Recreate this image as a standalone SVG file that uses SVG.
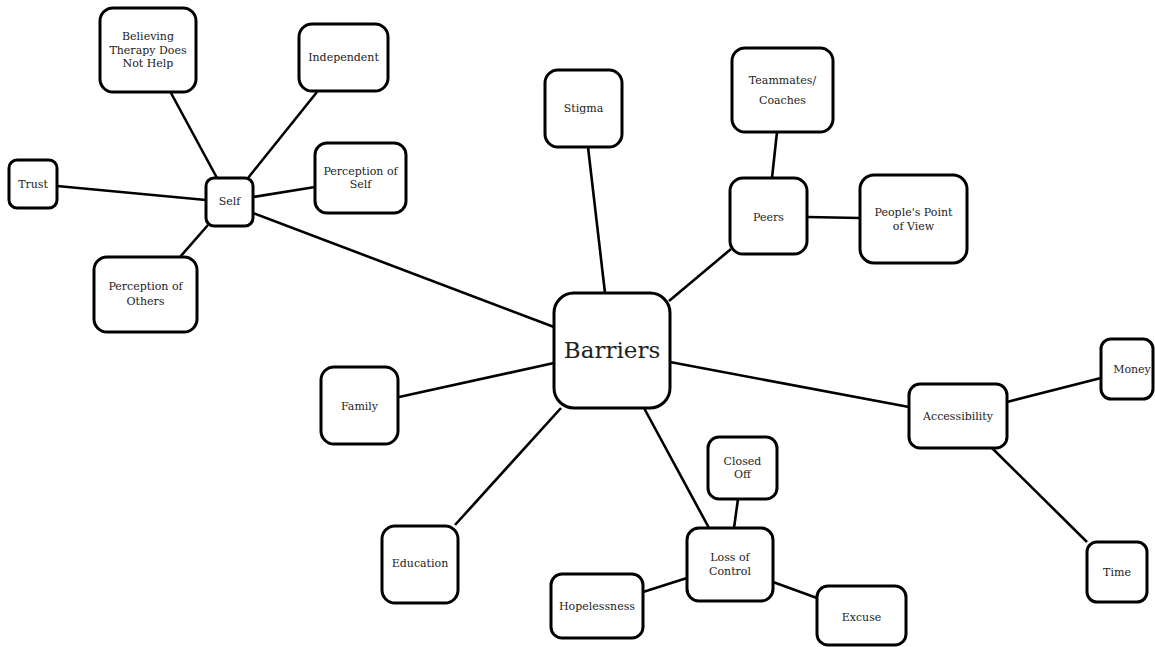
<svg xmlns="http://www.w3.org/2000/svg" width="1155" height="647" viewBox="0 0 1155 647">
<style>
.n rect{fill:#fff;stroke:#000;stroke-width:3}
.n text{font-family:"DejaVu Serif","Liberation Serif",serif;font-size:11px;fill:#222;text-anchor:middle}
.c line{stroke:#000;stroke-width:2.6;stroke-linecap:butt}
</style>
<rect width="1155" height="647" fill="#fff"/>
<g class="c" id="connectors">
<line x1="171" y1="93" x2="217" y2="178"/>
<line x1="317" y1="92" x2="248" y2="178"/>
<line x1="57" y1="186" x2="206" y2="200"/>
<line x1="315" y1="187" x2="253" y2="197"/>
<line x1="180" y1="257" x2="208" y2="225"/>
<line x1="253" y1="213" x2="554" y2="327"/>
<line x1="588" y1="147" x2="605" y2="293"/>
<line x1="777" y1="132" x2="772" y2="178"/>
<line x1="807" y1="217" x2="860" y2="218"/>
<line x1="731" y1="249" x2="669" y2="301"/>
<line x1="670" y1="362" x2="909" y2="407"/>
<line x1="399" y1="397" x2="554" y2="363"/>
<line x1="455" y1="525" x2="561" y2="408"/>
<line x1="644" y1="408" x2="709" y2="528"/>
<line x1="643" y1="592" x2="687" y2="578"/>
<line x1="738" y1="499" x2="734" y2="528"/>
<line x1="773" y1="582" x2="817" y2="598"/>
<line x1="1007" y1="402" x2="1101" y2="378"/>
<line x1="992" y1="448" x2="1087" y2="542"/>
</g>
<g class="n" id="believing"><rect x="100" y="8" width="96" height="84" rx="13"/><text x="148" y="40">Believing</text><text x="148" y="54">Therapy Does</text><text x="148" y="67">Not Help</text></g>
<g class="n" id="independent"><rect x="299" y="24" width="89" height="67" rx="13"/><text x="343.5" y="61">Independent</text></g>
<g class="n" id="trust"><rect x="9" y="160" width="48" height="48" rx="8"/><text x="33" y="188">Trust</text></g>
<g class="n" id="self"><rect x="206" y="178" width="47" height="48" rx="8"/><text x="229.5" y="205">Self</text></g>
<g class="n" id="perception-self"><rect x="315" y="143" width="91" height="70" rx="12"/><text x="360.5" y="175">Perception of</text><text x="360.5" y="188">Self</text></g>
<g class="n" id="perception-others"><rect x="94" y="257" width="103" height="75" rx="13"/><text x="145.5" y="290">Perception of</text><text x="145.5" y="305">Others</text></g>
<g class="n" id="stigma"><rect x="545" y="70" width="77" height="77" rx="13"/><text x="583.5" y="112">Stigma</text></g>
<g class="n" id="teammates"><rect x="732" y="48" width="101" height="84" rx="13"/><text x="782.5" y="84">Teammates/</text><text x="782.5" y="104">Coaches</text></g>
<g class="n" id="peers"><rect x="730" y="178" width="77" height="76" rx="13"/><text x="768.5" y="221">Peers</text></g>
<g class="n" id="peoples-view"><rect x="860" y="175" width="107" height="88" rx="14"/><text x="913.5" y="216">People's Point</text><text x="913.5" y="230">of View</text></g>
<g class="n" id="barriers"><rect x="554" y="293" width="116" height="115" rx="20"/><text x="612" y="358" style="font-size:23px">Barriers</text></g>
<g class="n" id="family"><rect x="321" y="367" width="77" height="77" rx="13"/><text x="359.5" y="410">Family</text></g>
<g class="n" id="education"><rect x="382" y="526" width="76" height="77" rx="13"/><text x="420" y="567">Education</text></g>
<g class="n" id="hopelessness"><rect x="551" y="574" width="92" height="64" rx="11"/><text x="597" y="610">Hopelessness</text></g>
<g class="n" id="accessibility"><rect x="909" y="384" width="98" height="64" rx="11"/><text x="958" y="420">Accessibility</text></g>
<g class="n" id="money"><rect x="1101" y="339" width="52" height="60" rx="10"/><text x="1132" y="373">Money</text></g>
<g class="n" id="closed-off"><rect x="708" y="437" width="69" height="62" rx="11"/><text x="742.5" y="465">Closed</text><text x="742.5" y="478">Off</text></g>
<g class="n" id="loss-of-control"><rect x="687" y="528" width="86" height="73" rx="12"/><text x="730" y="561">Loss of</text><text x="730" y="575">Control</text></g>
<g class="n" id="excuse"><rect x="817" y="586" width="89" height="59" rx="11"/><text x="861.5" y="621">Excuse</text></g>
<g class="n" id="time"><rect x="1087" y="542" width="60" height="60" rx="10"/><text x="1117" y="576">Time</text></g>
</svg>
